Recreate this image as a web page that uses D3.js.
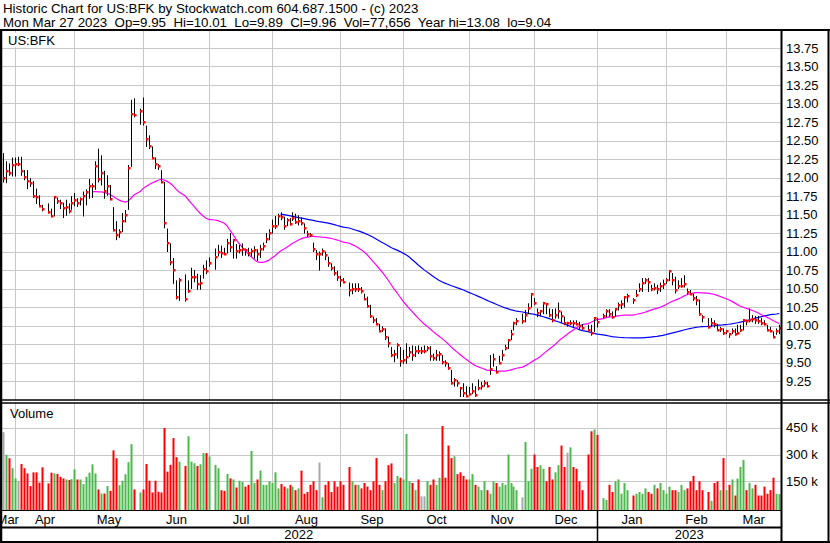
<!DOCTYPE html>
<html><head><meta charset="utf-8">
<script src="https://cdn.jsdelivr.net/npm/d3@7"></script>
<style>
body{margin:0;background:#fff}
svg{display:block}
text{font-family:"Liberation Sans",Arial,sans-serif;fill:#000}
</style>
</head><body>
<svg id="c" width="830" height="543"></svg>
<script>
// ---------------- DATA ----------------
const closes = [
12.00,12.09,12.06,12.17,12.18,12.18,12.09,12.01,11.95,11.92,11.75,11.73,11.62,11.57,
11.54,11.48,11.73,11.68,11.66,11.59,11.60,11.55,11.65,11.69,11.65,11.71,11.75,11.80,11.88,11.89,12.15,11.98,12.06,11.82,11.89,11.71,11.29,11.22,11.27,11.41,11.49,12.13,12.86,12.84,
12.90,12.75,12.52,12.42,12.27,12.18,12.15,11.94,11.38,11.11,10.86,10.75,10.39,10.62,
10.36,10.46,10.65,10.66,10.56,10.57,10.76,10.73,10.84,
10.93,11.00,10.98,10.97,11.12,11.06,11.15,11.01,11.02,11.03,11.02,10.98,11.01,11.02,10.96,11.03,11.08,11.17,11.25,11.34,11.35,11.48,11.47,11.35,11.42,11.37,11.45,11.40,11.41,11.39,11.32,11.23,11.22,11.04,10.97,10.97,11.01,10.95,10.84,10.78,10.71,10.65,10.61,10.59,
10.48,10.50,10.49,10.50,10.46,10.36,10.26,10.13,10.07,10.02,9.93,9.95,9.84,9.76,9.60,9.62,
9.73,9.52,9.53,9.58,9.64,9.60,9.66,9.65,9.65,9.65,9.70,9.59,9.56,9.60,9.61,9.51,9.49,9.42,9.22,9.26,9.22,9.15,9.09,9.05,9.08,9.12,9.06,9.15,9.18,9.22,9.18,9.41,9.55,9.37,9.50,9.60,9.69,9.80,9.89,10.04,10.06,10.06,
10.14,10.23,10.42,10.31,10.17,10.19,10.30,10.29,10.14,10.07,10.14,10.19,10.13,10.03,10.03,10.04,10.03,10.02,9.99,9.97,
9.94,9.90,10.10,10.05,10.13,10.19,10.16,10.11,10.22,10.28,10.29,10.38,10.40,
10.34,10.41,10.50,10.58,10.61,10.59,10.50,10.51,10.49,10.53,10.56,10.61,10.73,10.62,10.48,10.53,10.54,10.56,10.45,10.43,10.37,10.35,10.16,10.11,
9.98,10.03,10.02,9.94,9.95,9.90,9.92,9.89,9.93,9.89,9.90,9.94,10.07,10.06,10.08,10.09,10.07,10.06,10.04,10.02,9.94,9.93,9.85,9.92,9.96
];
const highs = [
12.33,12.22,12.19,12.27,12.27,12.28,12.28,12.10,12.10,11.99,11.95,11.85,11.76,11.63,
11.65,11.58,11.73,11.73,11.70,11.66,11.70,11.65,11.75,11.79,11.72,11.73,11.81,11.84,11.98,11.92,12.22,12.39,12.30,12.09,12.03,11.90,11.60,11.41,11.30,11.52,11.56,12.17,13.05,13.07,
12.93,13.08,12.70,12.57,12.42,12.27,12.18,12.10,11.94,11.31,11.11,10.91,10.61,10.64,
10.69,10.61,10.78,10.75,10.70,10.68,10.82,10.88,10.92,
11.04,11.09,11.08,11.05,11.17,11.25,11.17,11.10,11.09,11.11,11.04,11.05,11.04,11.07,11.03,11.09,11.12,11.25,11.30,11.43,11.48,11.51,11.53,11.47,11.45,11.45,11.53,11.51,11.49,11.46,11.38,11.28,11.25,11.12,11.02,11.00,11.04,11.00,10.93,10.84,10.80,10.74,10.67,10.64,
10.58,10.57,10.57,10.57,10.52,10.43,10.39,10.28,10.12,10.10,10.02,9.99,9.96,9.85,9.71,9.67,
9.76,9.71,9.67,9.76,9.71,9.73,9.72,9.73,9.71,9.73,9.72,9.72,9.62,9.67,9.65,9.60,9.53,9.49,9.40,9.29,9.26,9.17,9.22,9.18,9.17,9.22,9.18,9.27,9.24,9.26,9.24,9.60,9.62,9.45,9.59,9.67,9.74,9.81,9.94,10.05,10.10,10.16,
10.21,10.30,10.43,10.37,10.23,10.21,10.32,10.30,10.23,10.22,10.23,10.31,10.19,10.12,10.05,10.07,10.07,10.07,10.05,10.02,
10.01,10.01,10.10,10.10,10.16,10.22,10.22,10.19,10.23,10.31,10.34,10.39,10.43,
10.37,10.48,10.57,10.64,10.64,10.64,10.55,10.57,10.55,10.58,10.62,10.64,10.74,10.71,10.66,10.61,10.64,10.68,10.50,10.48,10.43,10.40,10.35,10.14,
10.10,10.10,10.07,10.02,9.98,9.96,9.94,9.90,9.96,9.96,10.01,10.01,10.07,10.08,10.23,10.14,10.13,10.13,10.10,10.07,10.01,9.98,9.92,9.96,10.01
];
const lows = [
11.94,11.93,12.03,12.02,12.02,12.16,12.03,11.97,11.85,11.88,11.73,11.65,11.61,11.55,
11.52,11.47,11.48,11.65,11.58,11.46,11.49,11.52,11.57,11.62,11.61,11.63,11.48,11.63,11.72,11.73,11.84,11.94,11.90,11.72,11.76,11.70,11.28,11.16,11.19,11.27,11.40,11.57,12.15,12.82,
12.72,12.71,12.42,12.39,12.26,12.12,12.11,11.94,11.32,11.00,10.82,10.57,10.36,10.34,
10.33,10.45,10.50,10.59,10.49,10.49,10.64,10.70,10.80,
10.76,10.94,10.92,10.97,10.98,11.00,10.91,10.91,10.98,10.95,10.95,10.94,10.94,10.91,10.88,10.92,11.02,11.12,11.16,11.25,11.31,11.36,11.43,11.30,11.35,11.36,11.42,11.38,11.36,11.36,11.25,11.20,11.20,11.00,10.89,10.75,10.95,10.89,10.80,10.75,10.68,10.61,10.53,10.58,
10.40,10.43,10.46,10.46,10.44,10.35,10.25,10.11,10.04,10.02,9.92,9.92,9.81,9.71,9.58,9.51,
9.56,9.45,9.49,9.49,9.58,9.53,9.58,9.62,9.62,9.63,9.66,9.53,9.53,9.53,9.53,9.48,9.45,9.41,9.21,9.18,9.18,9.04,9.04,9.04,9.06,9.08,9.04,9.13,9.14,9.18,9.17,9.34,9.45,9.36,9.49,9.53,9.67,9.69,9.81,9.94,10.01,10.03,
10.05,10.16,10.25,10.28,10.12,10.14,10.16,10.16,10.12,10.05,10.10,10.10,10.05,10.01,9.99,10.01,9.99,10.01,9.96,9.95,
9.92,9.87,9.92,9.98,10.10,10.12,10.12,10.10,10.12,10.21,10.23,10.25,10.32,
10.30,10.39,10.46,10.46,10.57,10.46,10.47,10.48,10.43,10.46,10.50,10.57,10.61,10.55,10.44,10.50,10.52,10.52,10.43,10.43,10.34,10.28,10.14,10.05,
9.97,9.99,9.98,9.94,9.92,9.88,9.89,9.84,9.89,9.87,9.89,9.92,9.94,10.01,10.05,10.05,10.03,10.03,10.01,10.01,9.93,9.92,9.84,9.88,9.89
];
// volume in thousands of shares
const volumes = [
425,298,279,223,
166,150,247,223,194,123,200,200,142,228,138,198,194,191,175,166,160,157,162,217,
160,160,134,175,198,245,194,104,81,81,123,96,323,279,128,153,189,257,358,104,87,
104,247,153,87,153,91,87,449,204,242,392,285,260,236,402,260,251,236,245,308,308,
289,
242,223,100,96,191,166,160,115,153,147,120,130,320,140,160,210,130,130,150,
140,200,110,135,120,110,130,120,100,110,210,80,90,130,150,100,255,60,130,150,90,150,120,
150,130,230,150,130,130,110,140,120,100,150,280,130,100,150,240,250,140,180,170,160,
415,150,140,100,160,65,65,150,130,160,130,170,460,170,350,280,290,190,200,180,160,
160,190,130,120,100,150,100,80,150,140,120,140,130,300,140,120,100,60,370,150,220,
300,230,240,220,150,230,160,200,240,350,230,310,340,230,220,150,100,300,430,440,410,
55,45,130,90,150,160,80,140,100,70,80,90,80,110,90,80,130,110,140,100,
80,120,100,100,90,130,100,110,150,180,100,150,100,90,40,140,150,100,280,
100,130,160,70,165,230,270,100,140,110,130,70,70,120,80,100,170,80,78
];
const holidays = ["2022-04-15","2022-05-30","2022-06-20","2022-07-04","2022-09-05","2022-11-24","2022-12-26","2023-01-02","2023-01-16","2023-02-20"];
const priceTicks = [9.25,9.50,9.75,10.00,10.25,10.50,10.75,11.00,11.25,11.50,11.75,12.00,12.25,12.50,12.75,13.00,13.25,13.50,13.75];
const volTicks = [150,300,450];
const maShort = 30, maLong = 90;
const titleLine1 = "Historic Chart for US:BFK by Stockwatch.com 604.687.1500 - (c) 2023";
const titleLine2 = "Mon Mar 27 2023  Op=9.95  Hi=10.01  Lo=9.89  Cl=9.96  Vol=77,656  Year hi=13.08  lo=9.04";
const symbolLabel = "US:BFK";

// ---------------- CHART ----------------
const svg = d3.select("#c");
const fmt = d3.timeFormat("%Y-%m-%d");
const startDate = new Date(2022,2,28), endDate = new Date(2023,2,27);
const weekdays = d3.timeDay.range(startDate, d3.timeDay.offset(endDate,1)).filter(d=>d.getDay()!==0&&d.getDay()!==6);
const wIndex = new Map(weekdays.map((d,i)=>[fmt(d),i]));
const tradingDays = weekdays.filter(d=>!holidays.includes(fmt(d)));
const rows = tradingDays.map((d,i)=>({date:d,w:wIndex.get(fmt(d)),h:highs[i],l:lows[i],c:closes[i],v:volumes[i]*1000}));

const L = 2, R = 781, PT = 30, PB = 400, VT = 402.5, VB = 510;
const x = d3.scaleLinear().domain([0, weekdays.length-1]).range([2.8, 779.3]);
const y = d3.scaleLinear().domain([9,14]).range([399.5,29.5]);
const yv = d3.scaleLinear().domain([0,600000]).range([508,401]);
const GRID = "#c8c8c8";

svg.append("rect").attr("width",830).attr("height",543).attr("fill","#fff");

// titles
svg.append("text").attr("x",3).attr("y",13).attr("font-size",13.3).text(titleLine1);
svg.append("text").attr("x",3).attr("y",26.5).attr("font-size",13.3).attr("xml:space","preserve").style("white-space","pre").text(titleLine2);

// month boundaries
const monthStarts = d3.timeMonth.range(new Date(2022,3,1), new Date(2023,2,2));
function posOf(d){ let t=d; while(t.getDay()===0||t.getDay()===6) t=d3.timeDay.offset(t,-1); return x(wIndex.get(fmt(t))); }
const monthX = monthStarts.map(d=>({d, x: Math.round(posOf(d))+0.5}));

// clip
const defs = svg.append("defs");
defs.append("clipPath").attr("id","cp").append("rect").attr("x",L).attr("y",PT+1).attr("width",R-L).attr("height",PB-PT-1);
defs.append("clipPath").attr("id","cv").append("rect").attr("x",L).attr("y",VT).attr("width",R-L).attr("height",VB-VT);
defs.append("clipPath").attr("id","cm").append("rect").attr("x",L).attr("y",VB).attr("width",R-L).attr("height",33);

// price grid
const gp = svg.append("g");
gp.selectAll("line.h").data(priceTicks).join("line")
  .attr("x1",L).attr("x2",R).attr("y1",d=>Math.round(y(d))+0.5).attr("y2",d=>Math.round(y(d))+0.5)
  .attr("stroke",GRID).attr("stroke-width",1);
gp.selectAll("line.v").data(monthX).join("line")
  .attr("x1",d=>d.x).attr("x2",d=>d.x).attr("y1",PT).attr("y2",PB)
  .attr("stroke",GRID).attr("stroke-width",1);
// volume grid
const gv = svg.append("g");
gv.selectAll("line.h").data(volTicks).join("line")
  .attr("x1",L).attr("x2",R).attr("y1",d=>Math.round(yv(d*1000))+0.5).attr("y2",d=>Math.round(yv(d*1000))+0.5)
  .attr("stroke",GRID);
gv.selectAll("line.v").data(monthX).join("line")
  .attr("x1",d=>d.x).attr("x2",d=>d.x).attr("y1",VT).attr("y2",VB)
  .attr("stroke",GRID);

// labels inside panels
svg.append("rect").attr("x",4).attr("y",33).attr("width",56).attr("height",14).attr("fill","#fff");
svg.append("text").attr("x",8).attr("y",45).attr("font-size",13).text(symbolLabel);
svg.append("text").attr("x",10).attr("y",418).attr("font-size",13).text("Volume");

// moving averages
function sma(n){ const out=[]; for(let i=n-1;i<rows.length;i++){ out.push({w:rows[i].w, v:d3.mean(rows.slice(i-n+1,i+1),r=>r.c)}); } return out; }
const line = d3.line().x(d=>x(d.w)).y(d=>y(d.v));
const gPrice = svg.append("g").attr("clip-path","url(#cp)");
gPrice.append("path").datum(sma(maLong)).attr("d",line).attr("fill","none").attr("stroke","#0000ff").attr("stroke-width",1.2);
gPrice.append("path").datum(sma(maShort)).attr("d",line).attr("fill","none").attr("stroke","#ff00ff").attr("stroke-width",1.2);

// OHLC bars (high-low + close)
gPrice.selectAll("line.bar").data(rows).join("line")
  .attr("x1",d=>Math.round(x(d.w))+0.5).attr("x2",d=>Math.round(x(d.w))+0.5)
  .attr("y1",d=>y(d.h)).attr("y2",d=>y(d.l)+0.5)
  .attr("stroke","#000").attr("stroke-width",1);
gPrice.selectAll("rect.cl").data(rows).join("rect")
  .attr("x",d=>Math.round(x(d.w))).attr("y",d=>Math.round(y(d.c))-1)
  .attr("width",2.5).attr("height",2.5).attr("fill","#ff0000");

// volume bars
const gVol = svg.append("g").attr("clip-path","url(#cv)");
gVol.selectAll("rect").data(rows).join("rect")
  .attr("x",d=>Math.round(x(d.w))-0.5).attr("width",2)
  .attr("y",d=>yv(d.v)).attr("height",d=>VB-yv(d.v))
  .attr("fill",(d,i)=> i===0 ? "#a8a8a8" : (d.c>rows[i-1].c ? "#4db84d" : (d.c<rows[i-1].c ? "#ff0000" : "#a8a8a8")));

// right axis labels
svg.selectAll("text.pt").data(priceTicks).join("text")
  .attr("x",786).attr("y",d=>y(d)).attr("dy","0.36em").attr("font-size",13)
  .text(d=>d3.format(".2f")(d));
svg.selectAll("text.vt").data(volTicks).join("text")
  .attr("x",786).attr("y",d=>yv(d*1000)).attr("dy","0.36em").attr("font-size",13)
  .text(d=>d+" k");

// month/year rows
const bounds = [0, ...monthX.map(d=>d.x), R];
const mNames = d3.timeFormat("%b");
const mLabels = [d3.timeMonth.offset(monthStarts[0],-1), ...monthStarts];
const gm = svg.append("g").attr("clip-path","url(#cm)");
gm.selectAll("text").data(mLabels).join("text")
  .attr("x",(d,i)=>(bounds[i]+bounds[i+1])/2).attr("y",523.5)
  .attr("text-anchor","middle").attr("font-size",13).text(d=>mNames(d));
const yearX = monthX.find(d=>d.d.getMonth()===0).x;
svg.append("text").attr("x",(0+yearX)/2).attr("y",539).attr("text-anchor","middle").attr("font-size",13).text("2022");
svg.append("text").attr("x",(yearX+R)/2).attr("y",539).attr("text-anchor","middle").attr("font-size",13).text("2023");

// frame lines
const fr = svg.append("g").attr("stroke","#000");
fr.append("line").attr("x1",0).attr("x2",830).attr("y1",30).attr("y2",30).attr("stroke-width",2);
fr.append("line").attr("x1",0).attr("x2",830).attr("y1",400).attr("y2",400).attr("stroke-width",1.5);
fr.append("line").attr("x1",0).attr("x2",830).attr("y1",403).attr("y2",403).attr("stroke-width",1.5);
fr.append("line").attr("x1",0).attr("x2",R).attr("y1",510.5).attr("y2",510.5).attr("stroke-width",1);
fr.append("line").attr("x1",0).attr("x2",R).attr("y1",527.5).attr("y2",527.5).attr("stroke-width",2);
fr.append("line").attr("x1",0).attr("x2",830).attr("y1",542).attr("y2",542).attr("stroke-width",2);
fr.append("line").attr("x1",1).attr("x2",1).attr("y1",30).attr("y2",543).attr("stroke-width",2.5);
fr.append("line").attr("x1",R+0.5).attr("x2",R+0.5).attr("y1",30).attr("y2",543).attr("stroke-width",2);
fr.append("line").attr("x1",828.5).attr("x2",828.5).attr("y1",30).attr("y2",543).attr("stroke-width",2);
fr.append("line").attr("x1",yearX).attr("x2",yearX).attr("y1",510).attr("y2",543).attr("stroke-width",1.5);
</script>
</body></html>
